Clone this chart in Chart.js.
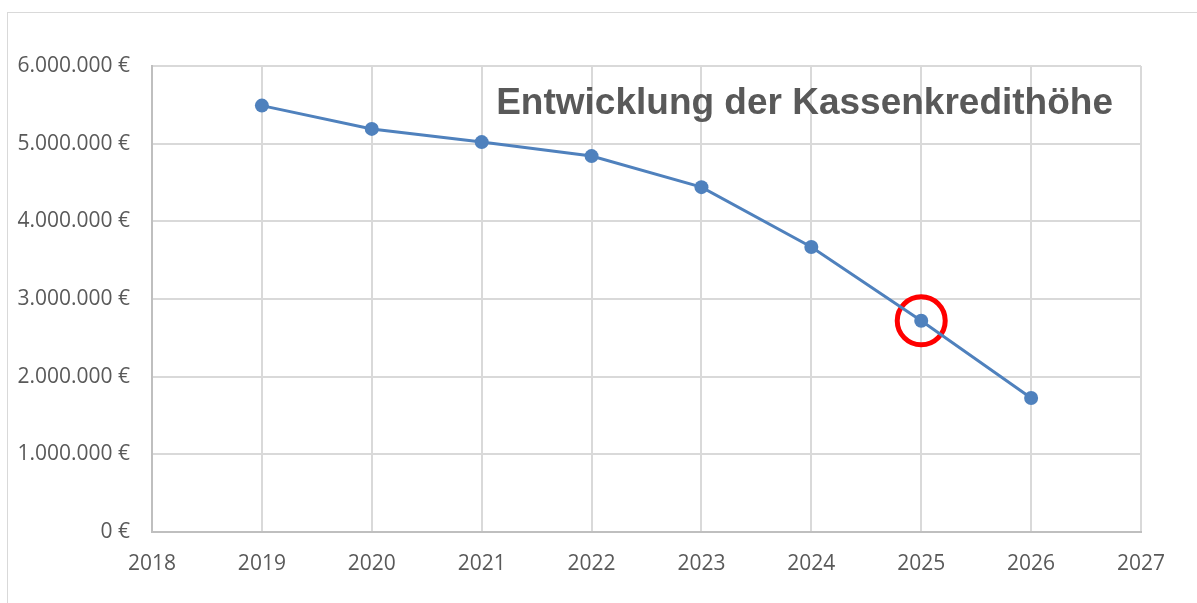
<!DOCTYPE html>
<html lang="de">
<head>
  <meta charset="UTF-8" />
  <title>Entwicklung der Kassenkredithöhe</title>
  <script src="https://cdn.jsdelivr.net/npm/chart.js"></script>
  <style>
    html, body {
      margin: 0;
      padding: 0;
      background: #fff;
      overflow: hidden;
    }
    .frame {
      position: absolute;
      left: 7px;
      top: 12px;
      width: 1200px;
      height: 600px;
      border: 1px solid #d9d9d9;
    }
    .chart-container {
      position: absolute;
      left: 0;
      top: 0;
      width: 1197px;
      height: 603px;
    }
  </style>
</head>
<body>
  <div class="frame"></div>
  <div class="chart-container">
    <canvas id="kreditChart"></canvas>
  </div>

  <script>
    // Daten
    const jahre = [2019, 2020, 2021, 2022, 2023, 2024, 2025, 2026];
    const kassenkredit = [5490000, 5190000, 5020000, 4840000, 4440000, 3670000, 2720000, 1725000];
    const markiertesJahr = [2025];
    const markierterWert = [2720000];
    const titel = 'Entwicklung der Kassenkredithöhe';

    function euro(v) {
      return String(Math.round(v)).replace(/\B(?=(\d{3})+(?!\d))/g, '.') + ' €';
    }

    // Titel im Diagrammbereich
    const titelPlugin = {
      id: 'titelImPlot',
      afterDatasetsDraw(chart) {
        const { ctx, chartArea } = chart;
        ctx.save();
        ctx.font = 'bold 37px "Liberation Sans", Arial, sans-serif';
        ctx.fillStyle = '#595959';
        ctx.textAlign = 'right';
        ctx.textBaseline = 'middle';
        ctx.fillText(titel, chartArea.right - 28, chartArea.top + 38);
        ctx.restore();
      }
    };

    const tickFont = { family: '"Open Sans", sans-serif', size: 21 };

    new Chart(document.getElementById('kreditChart'), {
      type: 'line',
      data: {
        datasets: [
          {
            label: 'Kassenkredit',
            data: jahre.map((j, i) => ({ x: j, y: kassenkredit[i] })),
            borderColor: '#4f81bd',
            backgroundColor: '#4f81bd',
            borderWidth: 3,
            pointRadius: 7,
            pointHoverRadius: 7,
            pointBackgroundColor: '#4f81bd',
            pointBorderWidth: 0,
            tension: 0
          },
          {
            label: 'Markierung',
            data: markiertesJahr.map((j, i) => ({ x: j, y: markierterWert[i] })),
            showLine: false,
            pointRadius: 24,
            pointHoverRadius: 24,
            pointBackgroundColor: 'rgba(0,0,0,0)',
            pointBorderColor: '#ff0000',
            pointBorderWidth: 5
          }
        ]
      },
      options: {
        responsive: true,
        maintainAspectRatio: false,
        animation: false,
        layout: { padding: { left: 0, right: 56, top: 66, bottom: 0 } },
        plugins: {
          legend: { display: false },
          tooltip: { enabled: false },
          title: { display: false }
        },
        scales: {
          x: {
            type: 'linear',
            min: 2018,
            max: 2027,
            ticks: {
              stepSize: 1,
              padding: 19,
              color: '#595959',
              font: tickFont,
              callback: v => String(v)
            },
            grid: { color: '#d9d9d9', lineWidth: 2, drawTicks: false },
            border: { color: '#bfbfbf', width: 2 },
            afterFit(scale) { scale.height = 71; }
          },
          y: {
            min: 0,
            max: 6000000,
            ticks: {
              stepSize: 1000000,
              padding: 22,
              color: '#595959',
              font: tickFont,
              callback: v => euro(v)
            },
            grid: { color: '#d9d9d9', lineWidth: 2, drawTicks: false },
            border: { color: '#bfbfbf', width: 2 },
            afterFit(scale) { scale.width = 152; }
          }
        }
      },
      plugins: [titelPlugin]
    });
  </script>
</body>
</html>
